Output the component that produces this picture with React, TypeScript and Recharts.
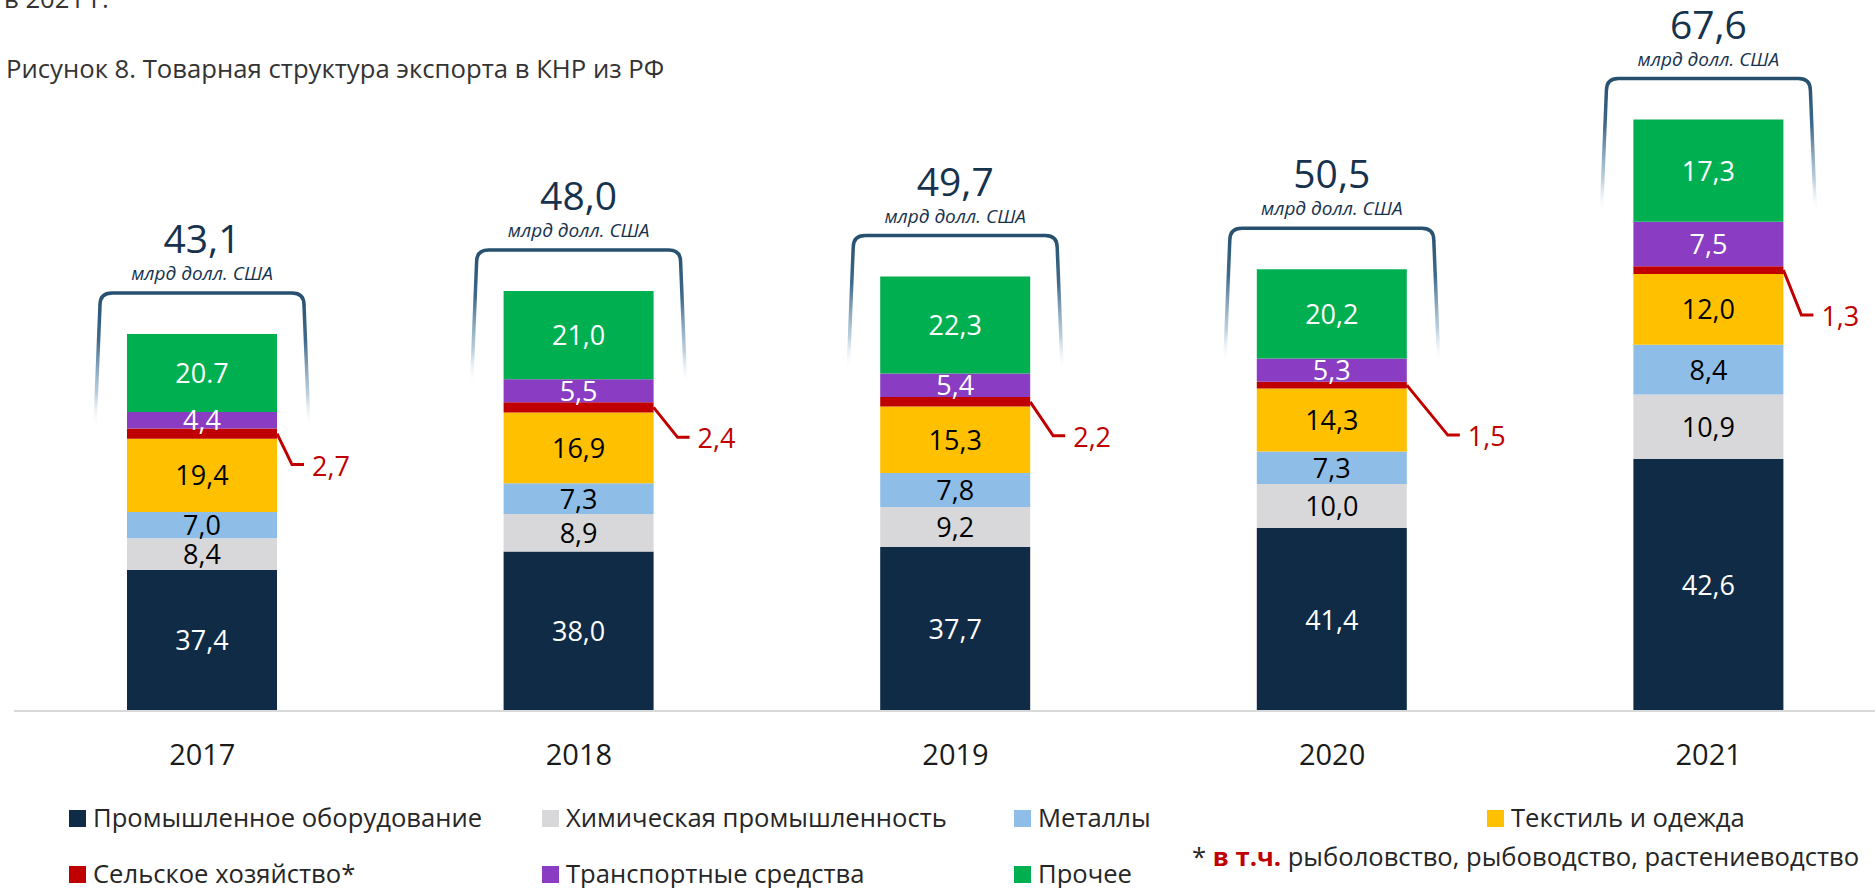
import React from 'react';
import { BarChart, Bar, XAxis, YAxis, LabelList } from 'recharts';

// годы и итоговые объёмы (млрд долл. США)
const years = ['2017', '2018', '2019', '2020', '2021'];
const totals = [43.1, 48.0, 49.7, 50.5, 67.6];

// доли товарных групп, %
const machinery = [37.4, 38.0, 37.7, 41.4, 42.6];
const chemicals = [8.4, 8.9, 9.2, 10.0, 10.9];
const metals = [7.0, 7.3, 7.8, 7.3, 8.4];
const textiles = [19.4, 16.9, 15.3, 14.3, 12.0];
const agriculture = [2.7, 2.4, 2.2, 1.5, 1.3];
const transport = [4.4, 5.5, 5.4, 5.3, 7.5];
const other = [20.7, 21.0, 22.3, 20.2, 17.3];

// на исходном рисунке у 2017 г. стоит точка
const labelOverrides: Record<string, string> = { 'other-0': '20.7' };

const FONT = '"Open Sans", "Noto Sans", sans-serif';

const series = [
  { key: 'machinery', name: 'Промышленное оборудование', color: '#0f2b46', text: '#ffffff', shares: machinery },
  { key: 'chemicals', name: 'Химическая промышленность', color: '#d8d8da', text: '#000000', shares: chemicals },
  { key: 'metals', name: 'Металлы', color: '#8ebee7', text: '#000000', shares: metals },
  { key: 'textiles', name: 'Текстиль и одежда', color: '#ffc000', text: '#000000', shares: textiles },
  { key: 'agriculture', name: 'Сельское хозяйство*', color: '#c00000', text: '#c00000', shares: agriculture },
  { key: 'transport', name: 'Транспортные средства', color: '#8a3cc3', text: '#ffffff', shares: transport },
  { key: 'other', name: 'Прочее', color: '#00b050', text: '#ffffff', shares: other },
];

const chartData = years.map((year, i) => {
  const row: Record<string, number | string> = { year };
  series.forEach(s => {
    row[s.key] = (s.shares[i] * totals[i]) / 100;
  });
  return row;
});

const fmt = (v: number) => v.toFixed(1).replace('.', ',');

// выноски для сельского хозяйства
const calloutDx = [15, 24, 23, 41, 18];
const calloutDrop = [31, 30, 34, 50, 45];

const box = (props: any) => {
  const vb = props.viewBox || {};
  const x = props.x ?? vb.x;
  const y = props.y ?? vb.y;
  const width = props.width ?? vb.width;
  const height = props.height ?? vb.height;
  return { x: Number(x), y: Math.min(Number(y), Number(y) + Number(height)), width: Number(width), height: Math.abs(Number(height)) };
};

const segmentLabel = (s: typeof series[number]) => (props: any) => {
  const { x, y, width, height } = box(props);
  const i = props.index;
  const txt = labelOverrides[`${s.key}-${i}`] ?? fmt(s.shares[i]);
  return (
    <text x={x + width / 2} y={y + height / 2 + 10} textAnchor="middle" fontSize={27} fill={s.text} fontFamily={FONT}>
      {txt}
    </text>
  );
};

const CalloutLabel = (props: any) => {
  const { x, y, width, height } = box(props);
  const i = props.index;
  const sx = x + width;
  const sy = y + height / 2;
  const ex = sx + calloutDx[i];
  const ey = sy + calloutDrop[i];
  return (
    <g>
      <polyline points={`${sx},${sy} ${ex},${ey} ${ex + 12},${ey}`} fill="none" stroke="#c00000" strokeWidth={3} />
      <text x={ex + 20} y={ey + 11} fontSize={27} fill="#c00000" fontFamily={FONT}>
        {fmt(agriculture[i])}
      </text>
    </g>
  );
};

const BracketLabel = (props: any) => {
  const { x, y, width } = box(props);
  const i = props.index;
  const cx = x + width / 2;
  const bt = y - 41;
  const L = x - 27;
  const R = x + width + 27;
  const d = `M ${L - 5} ${bt + 135} C ${L - 3} ${bt + 80} ${L - 1} ${bt + 40} ${L} ${bt + 12} Q ${L} ${bt} ${L + 12} ${bt} L ${R - 12} ${bt} Q ${R} ${bt} ${R} ${bt + 12} C ${R + 1} ${bt + 40} ${R + 3} ${bt + 80} ${R + 5} ${bt + 135}`;
  const gid = `bracket-grad-${i}`;
  return (
    <g>
      <defs>
        <linearGradient id={gid} gradientUnits="userSpaceOnUse" x1={0} y1={bt} x2={0} y2={bt + 135}>
          <stop offset="0" stopColor="#27506f" stopOpacity={1} />
          <stop offset="0.35" stopColor="#3f6a8b" stopOpacity={1} />
          <stop offset="0.75" stopColor="#8fb0c8" stopOpacity={0.6} />
          <stop offset="1" stopColor="#ffffff" stopOpacity={0} />
        </linearGradient>
      </defs>
      <path d={d} fill="none" stroke={`url(#${gid})`} strokeWidth={3.5} />
      <text x={cx} y={bt - 40} textAnchor="middle" fontSize={39} fill="#17324d" fontFamily={FONT}>
        {fmt(totals[i])}
      </text>
      <text x={cx} y={bt - 13} textAnchor="middle" fontSize={19} fontStyle="italic" fill="#17324d" fontFamily={FONT}>
        млрд долл. США
      </text>
    </g>
  );
};

const YearTick = (props: any) => (
  <text x={props.x} y={765} textAnchor="middle" fontSize={29} fill="#1a1a1a" fontFamily={FONT}>
    {props.payload.value}
  </text>
);

const legendCols = [69, 542, 1014, 1487];
const legendRows = [
  ['machinery', 'chemicals', 'metals', 'textiles'],
  ['agriculture', 'transport', 'other'],
];
const rowBase = [827, 883];

const App: React.FC = () => {
  return (
    <div style={{ position: 'absolute', left: 0, top: 0, width: 1875, height: 888, overflow: 'hidden', background: '#fff', fontFamily: FONT }}>
      <BarChart width={1900} height={888} data={chartData} margin={{ top: 11, right: 3, left: 14, bottom: 87 }}>
        <XAxis dataKey="year" height={90} axisLine={{ stroke: '#d9d9d9', strokeWidth: 2 }} tickLine={false} tick={YearTick} interval={0} />
        <YAxis hide domain={[0, 80]} />
        {series.map(s => (
          <Bar key={s.key} dataKey={s.key} name={s.name} stackId="a" fill={s.color} barSize={150} isAnimationActive={false}>
            {s.key === 'agriculture' ? (
              <LabelList dataKey={s.key} content={CalloutLabel} />
            ) : (
              <LabelList dataKey={s.key} content={segmentLabel(s)} />
            )}
            {s.key === 'other' && <LabelList dataKey={s.key} content={BracketLabel} />}
          </Bar>
        ))}
      </BarChart>
      <svg width={1875} height={888} style={{ position: 'absolute', left: 0, top: 0, pointerEvents: 'none' }} fontFamily={FONT}>
        <text x={4} y={8} fontSize={25.7} fill="#333333">в 2021 г.</text>
        <text x={6} y={78} fontSize={25.7} fill="#333333">Рисунок 8. Товарная структура экспорта в КНР из РФ</text>
        {legendRows.map((row, r) =>
          row.map((key, c) => {
            const s = series.find(it => it.key === key)!;
            const x = legendCols[c];
            return (
              <g key={key}>
                <rect x={x} y={rowBase[r] - 17} width={17} height={17} fill={s.color} />
                <text x={x + 24} y={rowBase[r]} fontSize={25.6} fill="#262626">{s.name}</text>
              </g>
            );
          })
        )}
        <text x={1192} y={866} fontSize={25.6} fill="#262626">
          {'* '}
          <tspan fill="#c00000" fontWeight="bold">в т.ч.</tspan>
          {' рыболовство, рыбоводство, растениеводство'}
        </text>
      </svg>
    </div>
  );
};

export default App;
